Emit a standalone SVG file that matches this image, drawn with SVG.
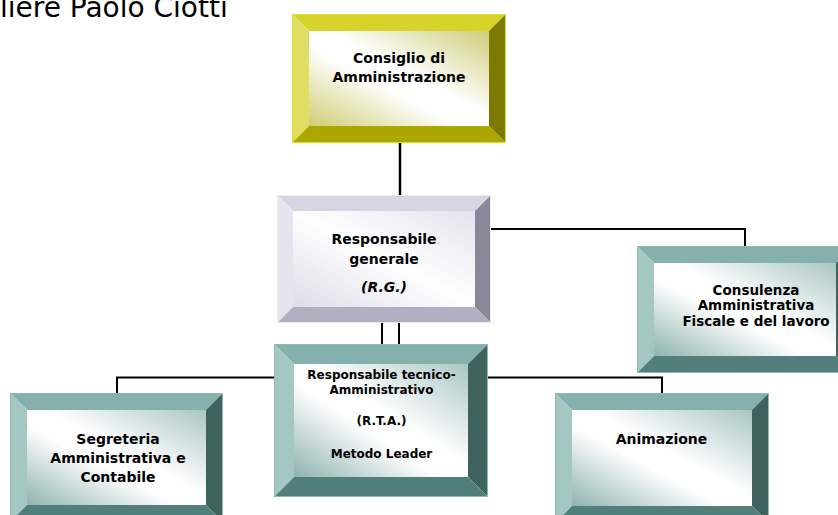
<svg xmlns="http://www.w3.org/2000/svg" width="838" height="515" viewBox="0 0 838 515">
<style>
  .t{font-family:"DejaVu Sans","Verdana",sans-serif;font-weight:bold;fill:#000;text-anchor:middle}
  .f14{font-size:14px}
  .f12{font-size:12px}
  .f135{font-size:13.5px}
  .title{font-family:"DejaVu Sans","Verdana",sans-serif;font-size:28px;fill:#000}
  .conn{fill:none;stroke:#000;stroke-width:2}
  .y .tp{fill:#d6d42c}.y .lf{fill:#e0de62}.y .rt{fill:#7c7a00}.y .bt{fill:#aaa800}.y .ol{fill:none;stroke:#e2e21a;stroke-width:1}
  .l .tp{fill:#d7d5e4}.l .lf{fill:#e6e5ef}.l .rt{fill:#8a8898}.l .bt{fill:#b1afc1}.l .ol{fill:none;stroke:#ebebf2;stroke-width:1}
  .g .tp{fill:#84b1ad}.g .lf{fill:#a4c7c4}.g .rt{fill:#40625f}.g .bt{fill:#527f7b}.g .ol{fill:none;stroke:#8dbab6;stroke-width:1}
</style>
<defs>
  <linearGradient id="gy" x1="1" y1="0" x2="0" y2="1">
    <stop offset="0" stop-color="#cfcd7a"/>
    <stop offset="0.45" stop-color="#ffffff"/>
    <stop offset="0.58" stop-color="#ffffff"/>
    <stop offset="1" stop-color="#cfcd72"/>
  </linearGradient>
  <linearGradient id="gl" x1="1" y1="0" x2="0" y2="1">
    <stop offset="0" stop-color="#e4e3ee"/>
    <stop offset="0.5" stop-color="#ffffff"/>
    <stop offset="1" stop-color="#dedcea"/>
  </linearGradient>
  <linearGradient id="gg" x1="1" y1="0" x2="0" y2="1">
    <stop offset="0" stop-color="#a9c6c3"/>
    <stop offset="0.45" stop-color="#ffffff"/>
    <stop offset="0.58" stop-color="#ffffff"/>
    <stop offset="1" stop-color="#8fb3b0"/>
  </linearGradient>
</defs>

<text class="title" x="0" y="17">liere Paolo Ciotti</text>

<g id="connectors">
  <line class="conn" x1="400" y1="143" x2="400" y2="195" style="stroke-width:2.5"/>
  <polyline class="conn" points="491,229 745,229 745,246"/>
  <line class="conn" x1="382" y1="323" x2="382" y2="344"/>
  <line class="conn" x1="399" y1="323" x2="399" y2="344"/>
  <polyline class="conn" points="274,377.5 117,377.5 117,393"/>
  <polyline class="conn" points="488,377.5 662,377.5 662,393"/>
</g>

<g id="consiglio" class="y">
  <polygon class="tp" points="292,14 506,14 489,31 309,31"/>
  <polygon class="lf" points="292,14 309,31 309,126 292,143"/>
  <polygon class="rt" points="506,14 506,143 489,126 489,31"/>
  <polygon class="bt" points="292,143 309,126 489,126 506,143"/>
  <rect x="309" y="31" width="180" height="95" fill="url(#gy)"/>
  <rect class="ol" x="292.5" y="14.5" width="213" height="128"/>
  <text class="t f14" x="399" y="62.5">Consiglio di</text>
  <text class="t f14" x="399" y="81.5">Amministrazione</text>
</g>

<g id="responsabile-generale" class="l">
  <polygon class="tp" points="277,195 491,195 475,211 293,211"/>
  <polygon class="lf" points="277,195 293,211 293,307 277,323"/>
  <polygon class="rt" points="491,195 491,323 475,307 475,211"/>
  <polygon class="bt" points="277,323 293,307 475,307 491,323"/>
  <rect x="293" y="211" width="182" height="96" fill="url(#gl)"/>
  <rect class="ol" x="277.5" y="195.5" width="213" height="127"/>
  <text class="t f14" x="384" y="244">Responsabile</text>
  <text class="t f14" x="384" y="264">generale</text>
  <text class="t f14" x="384" y="292" font-style="italic">(R.G.)</text>
</g>

<g id="consulenza" class="g">
  <polygon class="tp" points="637,246 853,246 836,263 654,263"/>
  <polygon class="lf" points="637,246 654,263 654,356 637,373"/>
  <polygon class="rt" points="853,246 853,373 836,356 836,263"/>
  <polygon class="bt" points="637,373 654,356 836,356 853,373"/>
  <rect x="654" y="263" width="182" height="93" fill="url(#gg)"/>
  <rect class="ol" x="637.5" y="246.5" width="215" height="126"/>
  <text class="t f135" x="756" y="294.5">Consulenza</text>
  <text class="t f135" x="756" y="310">Amministrativa</text>
  <text class="t f135" x="756" y="325.5">Fiscale e del lavoro</text>
</g>

<g id="responsabile-tecnico" class="g">
  <polygon class="tp" points="274,344 488,344 468,364 294,364"/>
  <polygon class="lf" points="274,344 294,364 294,477 274,497"/>
  <polygon class="rt" points="488,344 488,497 468,477 468,364"/>
  <polygon class="bt" points="274,497 294,477 468,477 488,497"/>
  <rect x="294" y="364" width="174" height="113" fill="url(#gg)"/>
  <rect class="ol" x="274.5" y="344.5" width="213" height="152"/>
  <text class="t f12" x="381.5" y="378.5">Responsabile tecnico-</text>
  <text class="t f12" x="381.5" y="394">Amministrativo</text>
  <text class="t f12" x="381.5" y="425">(R.T.A.)</text>
  <text class="t f12" x="381.5" y="457.5">Metodo Leader</text>
</g>

<g id="segreteria" class="g">
  <polygon class="tp" points="10,393 223,393 206,410 27,410"/>
  <polygon class="lf" points="10,393 27,410 27,505 10,522"/>
  <polygon class="rt" points="223,393 223,522 206,505 206,410"/>
  <polygon class="bt" points="10,522 27,505 206,505 223,522"/>
  <rect x="27" y="410" width="179" height="95" fill="url(#gg)"/>
  <rect class="ol" x="10.5" y="393.5" width="212" height="128"/>
  <text class="t f14" x="118" y="443.5">Segreteria</text>
  <text class="t f14" x="118" y="462.5">Amministrativa e</text>
  <text class="t f14" x="118" y="481.5">Contabile</text>
</g>

<g id="animazione" class="g">
  <polygon class="tp" points="555,393 769,393 752,410 572,410"/>
  <polygon class="lf" points="555,393 572,410 572,506 555,523"/>
  <polygon class="rt" points="769,393 769,523 752,506 752,410"/>
  <polygon class="bt" points="555,523 572,506 752,506 769,523"/>
  <rect x="572" y="410" width="180" height="96" fill="url(#gg)"/>
  <rect class="ol" x="555.5" y="393.5" width="213" height="129"/>
  <text class="t f14" x="661.5" y="443.5">Animazione</text>
</g>
</svg>
